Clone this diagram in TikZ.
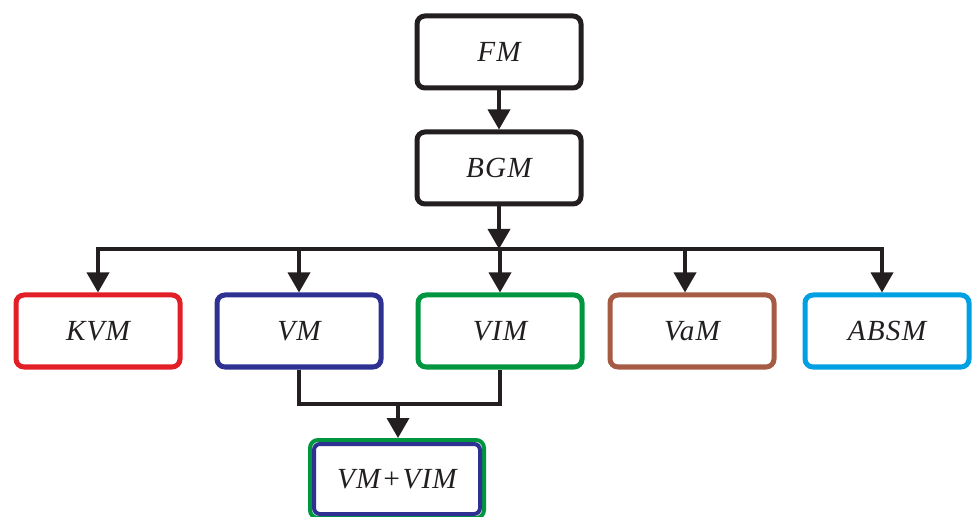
\documentclass[tikz,border=0pt]{standalone}
\usepackage{fontspec}
\setmainfont{Liberation Serif}
\usepackage{tikz}
\usetikzlibrary{arrows.meta,calc}
\definecolor{boxblack}{RGB}{35,31,32}
\definecolor{kvmred}{RGB}{226,30,38}
\definecolor{vmblue}{RGB}{46,49,146}
\definecolor{vimgreen}{RGB}{0,150,64}
\definecolor{vambrown}{RGB}{166,92,68}
\definecolor{absmcyan}{RGB}{0,160,227}
\tikzset{
  model/.style={draw=boxblack,line width=2.5pt,rounded corners=4pt,fill=white,
    minimum width=82pt,minimum height=36pt,
    font=\fontsize{14.6}{16}\selectfont\itshape\addfontfeature{LetterSpace=4},text=boxblack},
  conn/.style={draw=boxblack,line width=1.8pt},
  arr/.style={conn,-{Triangle[length=10pt,width=11pt]}}
}
\newcommand{\mname}[1]{#1}

\begin{document}
\begin{tikzpicture}[x=0.5pt,y=-0.5pt]
  \useasboundingbox[fill=white] (0,0) rectangle (972,517);
  \node[model] (fm) at (499,52) {\mname{FM}};
  \node[model] (bgm) at (499,168) {\mname{BGM}};
  \node[model,draw=kvmred] (kvm) at (98,331) {\mname{KVM}};
  \node[model,draw=vmblue] (vm) at (299,331) {\mname{VM}};
  \node[model,draw=vimgreen] (vim) at (500,331) {\mname{VIM}};
  \node[model,draw=vambrown] (vam) at (692,331) {\mname{VaM}};
  \node[model,draw=absmcyan] (absm) at (887,331) {\mname{ABSM}};
  \node[model,draw=vimgreen,line width=2pt,minimum width=87pt,minimum height=39pt] (vmvim) at (397,479) {\mname{VM+VIM}};
  \draw[vmblue,line width=2pt,rounded corners=3pt]
    ($(vmvim.south west)+(6,-6)$) rectangle ($(vmvim.north east)+(-6,6)$);
  \coordinate (bus) at (499,249);
  \coordinate (join) at (398,404);
  \draw[arr] (fm) -- (bgm);
  \draw[arr] (bgm) -- (bus);
  \draw[arr] (bus) -| (kvm.north);
  \draw[arr] (bus) -| (vm.north);
  \draw[arr] (bus) -| (vim.north);
  \draw[arr] (bus) -| ([xshift=-3.5pt]vam.north);
  \draw[arr] (bus) -| ([xshift=-2.5pt]absm.north);
  \draw[conn] (vm.south) |- (join) -| (vim.south);
  \draw[arr] (join) -- (join |- vmvim.north);
\end{tikzpicture}
\end{document}
